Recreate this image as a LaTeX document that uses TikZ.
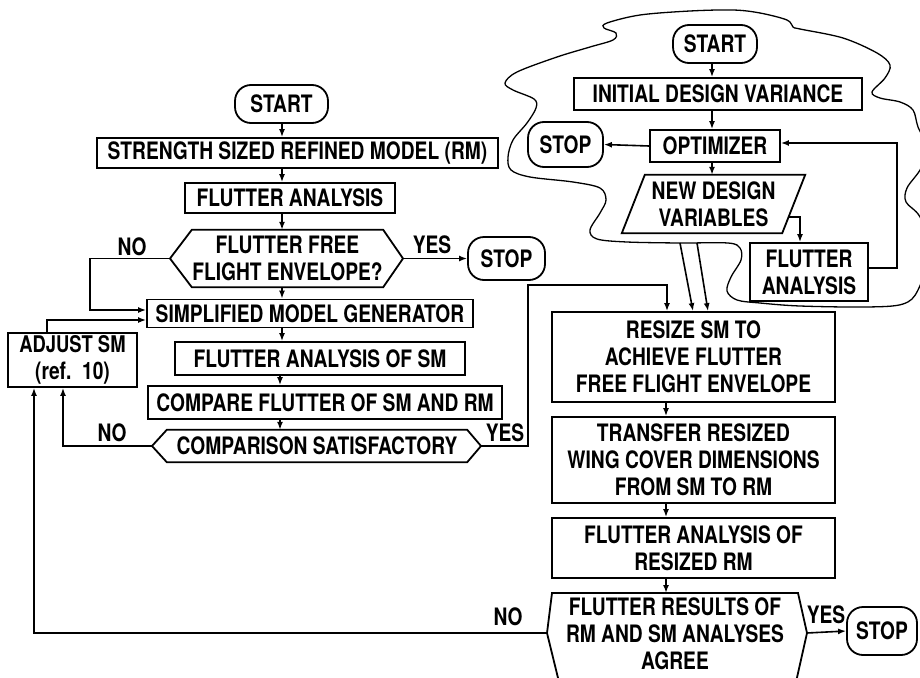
\documentclass[tikz,border=0pt]{standalone}
\usepackage{fontspec}
\setmainfont{TeX Gyre Heros}[FakeStretch=0.80]
\usetikzlibrary{arrows.meta,calc}
\newcommand\dfont{\fontsize{24}{27}\selectfont\bfseries}
\begin{document}
\begin{tikzpicture}[x=1pt,y=-1pt,line join=miter,
  box/.style={draw,line width=1.8pt,inner sep=0pt,font=\dfont,align=center},
  term/.style={box,rounded corners=16pt},
  plain/.style={inner sep=0pt,font=\dfont,align=center},
  lbl/.style={inner sep=0pt,font=\dfont},
  shp/.style={line width=1.8pt},
  ln/.style={line width=1.6pt},
  arr/.style={line width=1.6pt,-{Latex[length=8pt,width=6pt]}},
  cloud/.style={line width=1.3pt}]
\useasboundingbox (0,0) rectangle (920,677);
\clip (0,0) rectangle (920,677);

% ---------------- left flow ----------------
\node[term,minimum width=93,minimum height=38] (start1) at (281.5,104) {START};
\node[box,minimum width=401,minimum height=30] (strength) at (297.5,153) {STRENGTH SIZED REFINED MODEL (RM)};
\node[box,minimum width=210,minimum height=30] (fa1) at (290,198) {FLUTTER ANALYSIS};
\node[plain,minimum width=191,minimum height=57] (dec1) at (287.5,258.5) {FLUTTER FREE\\FLIGHT ENVELOPE?};
\coordinate (dec1W) at (170,258.5);
\coordinate (dec1E) at (403,258.5);
\draw[shp] (dec1.north west) -- (dec1.north east) -- (dec1E) -- (dec1.south east) -- (dec1.south west) -- (dec1W) -- cycle;
\node[term,minimum width=77,minimum height=43] (stop1) at (506.5,258.5) {STOP};
\node[box,minimum width=326,minimum height=28] (simp) at (310,313.5) {SIMPLIFIED MODEL GENERATOR};
\node[box,minimum width=129,minimum height=54] (adjust) at (72.5,360) {\fontsize{23}{24}\selectfont ADJUST SM\\(ref.\ \ 10)};
\node[box,minimum width=290,minimum height=33] (fasm) at (320,358.5) {FLUTTER ANALYSIS OF SM};
\node[box,minimum width=354,minimum height=33] (compare) at (325,402.5) {COMPARE FLUTTER OF SM AND RM};
\node[plain,minimum width=300,minimum height=32] (dec2) at (317,446) {COMPARISON SATISFACTORY};
\coordinate (dec2W) at (152,446);
\coordinate (dec2E) at (481,446);
\draw[shp] (dec2.north west) -- (dec2.north east) -- (dec2E) -- (dec2.south east) -- (dec2.south west) -- (dec2W) -- cycle;

\node[lbl] (no1) at (132,247) {NO};
\node[lbl] (yes1) at (432,245) {YES};
\node[lbl] (no2) at (112,433) {NO};
\node[lbl] (yes2) at (505,433) {YES};

\coordinate (lx) at (282,0);
\draw[arr] (start1.south -| lx) -- (strength.north -| lx);
\draw[arr] (strength.south -| lx) -- (fa1.north -| lx);
\draw[arr] (fa1.south -| lx) -- (dec1.north -| lx);
\draw[arr] (dec1.south -| lx) -- (simp.north -| lx);
\draw[arr] (simp.south -| lx) -- (fasm.north -| lx);
\coordinate (lx2) at (280,0);
\draw[arr] (fasm.south -| lx2) -- (compare.north -| lx2);
\draw[arr] (compare.south -| lx2) -- (dec2.north -| lx2);
\draw[arr] (dec1E) -- (stop1.west);

\coordinate (n1) at (90,258.5);
\coordinate (n1b) at (90,310);
\draw[arr] (dec1W) -- (n1) -- (n1b) -- (simp.west |- n1b);
\coordinate (a1) at (47,320);
\draw[arr] (adjust.north -| a1) -- (a1) -- (simp.west |- a1);
\coordinate (n2) at (63,446);
\draw[arr] (dec2W) -- (n2) -- (adjust.south -| n2);

% ---------------- right top (cloud) ----------------
\draw[cloud] plot[smooth cycle,tension=0.55] coordinates {
 (607,23) (640,15) (690,11) (733,10) (760,13) (787,20) (793,27) (800,29)
 (843,38) (877,53) (890,65) (885,78) (872,92) (880,98) (900,102) (913,110)
 (918,127) (928,150) (920,170) (907,188) (906,202) (920,217) (930,250)
 (918,290) (903,304) (867,307) (800,306) (760,303) (737,300) (727,291)
 (731,277) (741,260) (740,248) (728,243) (680,243) (627,242) (597,239)
 (590,230) (600,213) (606,200) (600,188) (573,182) (530,177) (511,170)
 (508,157) (513,140) (527,123) (536,108) (534,99) (513,90) (505,83)
 (517,72) (557,57) (590,47) (613,40) (616,33) (604,28)};

\node[term,minimum width=84,minimum height=38] (start2) at (715,44) {START};
\node[box,minimum width=288,minimum height=32] (initial) at (718,94) {INITIAL DESIGN VARIANCE};
\node[box,minimum width=130,minimum height=32] (optimizer) at (715,146) {OPTIMIZER};
\node[term,minimum width=75,minimum height=45] (stop2) at (565.5,144.5) {STOP};
\node[plain,minimum width=160,minimum height=58] (ndv) at (713.5,204) {NEW DESIGN\\VARIABLES};
\draw[shp] ($(ndv.north west)+(11.5,0)$) -- ($(ndv.north east)+(11.5,0)$) -- ($(ndv.south east)+(-11.5,0)$) -- ($(ndv.south west)+(-11.5,0)$) -- cycle;
\node[box,minimum width=118,minimum height=58] (fa2) at (809,272) {FLUTTER\\ANALYSIS};

\coordinate (rx) at (712,0);
\draw[arr] (start2.south -| rx) -- (initial.north -| rx);
\draw[arr] (initial.south -| rx) -- (optimizer.north -| rx);
\draw[arr] (optimizer.south -| rx) -- (ndv.north -| rx);
\draw[arr] (optimizer.west) -- (stop2.east);
\coordinate (ndvR) at (788,217);
\coordinate (c1) at (800,217);
\draw[arr] (ndvR) -- (c1) -- (fa2.north -| c1);
\coordinate (c2) at (897,268);
\coordinate (c3) at (897,143);
\draw[arr] (fa2.east |- c2) -- (c2) -- (c3) -- (optimizer.east |- c3);

% ---------------- right bottom ----------------
\node[box,minimum width=283,minimum height=90] (resize) at (693.5,357) {RESIZE SM TO\\ACHIEVE FLUTTER\\FREE FLIGHT ENVELOPE};
\node[box,minimum width=283,minimum height=86] (transfer) at (693.5,460) {TRANSFER RESIZED\\WING COVER DIMENSIONS\\FROM SM TO RM};
\node[box,minimum width=283,minimum height=60] (faresized) at (693.5,548) {FLUTTER ANALYSIS OF\\RESIZED RM};
\node[plain,minimum width=246,minimum height=82] (dec3) at (675,634) {FLUTTER RESULTS OF\\RM AND SM ANALYSES\\AGREE};
\coordinate (d3NW) at (552,593);
\coordinate (d3NE) at (798,593);
\coordinate (dec3W) at (547,633);
\coordinate (dec3E) at (807,633);
\coordinate (d3SW) at (559,682);
\coordinate (d3SE) at (796,682);
\draw[shp] (d3NW) -- (d3NE) -- (dec3E) -- (d3SE) -- (d3SW) -- (dec3W) -- cycle;
\node[term,minimum width=70,minimum height=48] (stop3) at (882,631) {STOP};
\node[lbl] (no3) at (508,617) {NO};
\node[lbl] (yes3) at (826,615) {YES};

\coordinate (kx) at (666,0);
\draw[arr] (resize.south -| kx) -- (transfer.north -| kx);
\draw[arr] (transfer.south -| kx) -- (faresized.north -| kx);
\draw[arr] (faresized.south -| kx) -- (d3NW -| kx);
\draw[arr] (dec3E) -- (stop3.west);

% YES from comparison to resize
\coordinate (y1) at (528,446);
\coordinate (y2) at (528,285);
\coordinate (y3) at (667,285);
\draw[arr] (dec2E) -- (y1) -- (y2) -- (y3) -- (resize.north -| y3);
% arrows out of the cloud
\coordinate (o1) at (680,243);
\coordinate (o1t) at (693,0);
\coordinate (o2) at (697,243);
\coordinate (o2t) at (708,0);
\draw[arr] (o1) -- (resize.north -| o1t);
\draw[arr] (o2) -- (resize.north -| o2t);
% long NO back to adjust
\coordinate (n3) at (34,633);
\draw[arr] (dec3W) -- (n3) -- (adjust.south -| n3);
\end{tikzpicture}
\end{document}
